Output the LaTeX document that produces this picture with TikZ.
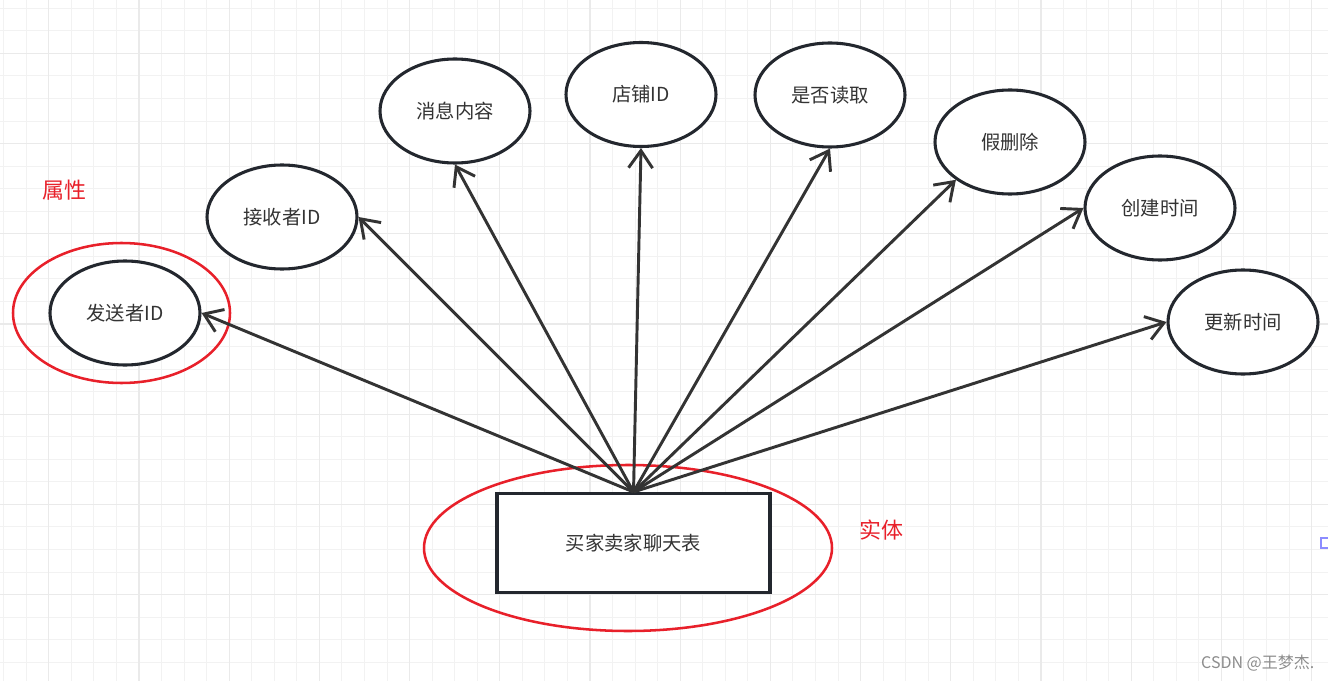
\documentclass[tikz,border=0pt]{standalone}
\usepackage{fontspec}
\usepackage{tikz}
\usetikzlibrary{positioning,arrows.meta,shapes.geometric}
\newfontfamily\cjk{Noto Sans CJK SC}
\definecolor{cdark}{HTML}{23272E}
\definecolor{ctext}{HTML}{333333}
\definecolor{cred}{HTML}{E8202A}
\definecolor{cgrid}{HTML}{F2F2F2}
\definecolor{cgridmaj}{HTML}{EAEAEA}
\tikzset{
  attr/.style={draw=cdark, ellipse, line width=2.3pt, fill=white, minimum width=112.5pt, minimum height=78pt, text=ctext, font=\cjk\fontsize{14.5}{17}\selectfont},
  ent/.style={draw=cdark, rectangle, line width=2.3pt, fill=white, minimum width=204.75pt, minimum height=74.25pt, text=ctext, font=\cjk\fontsize{14.5}{17}\selectfont},
  ring/.style={draw=cred, ellipse, line width=1.9pt, inner sep=0pt},
  tag/.style={text=cred, font=\cjk\fontsize{16.5}{20}\selectfont},
  link/.style={-{Straight Barb[length=13pt,width=18pt]}, line width=2.2pt, draw=ctext},
  gridmin/.style={draw=cgrid, line width=0.8pt},
  gridmaj/.style={draw=cgridmaj, line width=1pt},
}
\begin{document}
\begin{tikzpicture}[x=0.75pt, y=-0.75pt]
  \useasboundingbox (0,0) rectangle (1328,681);
  \fill[white] (0,0) rectangle (1328,681);
  % grid
  \foreach \i in {0,...,58} \draw[gridmin] ({3.7+22.55*\i},0) -- ++(0,681);
  \foreach \j in {0,...,29} \draw[gridmin] (0,{8.3+22.55*\j}) -- ++(1328,0);
  \foreach \i in {2,6,...,58} \draw[gridmaj] ({3.7+22.55*\i},0) -- ++(0,681);
  \foreach \j in {2,6,...,26} \draw[gridmaj] (0,{8.3+22.55*\j}) -- ++(1328,0);
  \draw[color=blue!45, line width=1.5pt] (1321,538) rectangle (1334,548);

  % entity
  \node[ring, minimum width=306pt, minimum height=124.5pt] (entring) at (628,548) {};
  \node[ent] (chat) at (633.5,543) {买家卖家聊天表};
  \node[tag] (enttag) at (881,530) {实体};

  % attributes
  \node[ring, minimum width=162.75pt, minimum height=105pt] (attrring) at (121.5,313) {};
  \node[tag] (attrtag) at (64,190) {属性};
  \node[attr] (sender) at (125,313) {发送者ID};
  \node[attr] (receiver) at (282,217) {接收者ID};
  \node[attr] (content) at (455,111) {消息内容};
  \node[attr] (shop) at (641,94.5) {店铺ID};
  \node[attr] (read) at (830,95) {是否读取};
  \node[attr] (del) at (1010,142) {假删除};
  \node[attr] (created) at (1160,208) {创建时间};
  \node[attr] (updated) at (1243,322) {更新时间};

  \draw[link] (chat.north) -- (sender.east);
  \draw[link] (chat.north) -- (receiver.east);
  \draw[link] (chat.north) -- (content.south);
  \draw[link] (chat.north) -- (shop.south);
  \draw[link] (chat.north) -- (read.south);
  \draw[link] (chat.north) -- (del.south west);
  \draw[link] (chat.north) -- (created.west);
  \draw[link] (chat.north) -- (updated.west);

  \node[anchor=east, text=black!45, font=\cjk\fontsize{12}{14}\selectfont] (mark) at (1319,663) {CSDN @王梦杰.};
\end{tikzpicture}
\end{document}
